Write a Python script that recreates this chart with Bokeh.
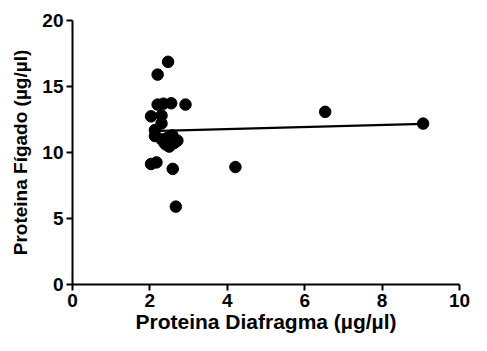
from bokeh.plotting import figure
from bokeh.models import Range1d, FixedTicker
from bokeh.embed import file_html
from bokeh.resources import INLINE

# Data
diafragma = [2.47, 2.20, 2.20, 2.35, 2.55, 2.92, 2.03, 2.30, 2.30, 2.13, 2.13,
             2.38, 2.63, 2.71, 2.50, 2.45, 2.58, 2.03, 2.17, 2.59, 2.67,
             4.21, 6.53, 9.06, 2.30, 2.42]
figado = [16.87, 15.90, 13.63, 13.70, 13.73, 13.63, 12.74, 12.80, 12.20, 11.70, 11.25,
          10.70, 10.72, 10.90, 10.45, 11.10, 11.30, 9.13, 9.25, 8.76, 5.90,
          8.90, 13.08, 12.19, 11.00, 10.60]
fit_x = [2.03, 9.06]
fit_y = [11.62, 12.17]
x_ticks = [0, 2, 4, 6, 8, 10]
y_ticks = [0, 5, 10, 15, 20]

FONT = "Liberation Sans"

p = figure(width=471, height=335, output_backend="svg", toolbar_location=None,
           x_range=Range1d(0, 10), y_range=Range1d(0, 20),
           min_border_left=72, min_border_right=12, min_border_top=20, min_border_bottom=50)
p.outline_line_color = None
p.xgrid.visible = False
p.ygrid.visible = False
p.background_fill_color = "white"

p.line(fit_x, fit_y, line_color="black", line_width=2.2)
p.scatter(diafragma, figado, size=11.5, fill_color="black", line_color="black")

for ax in (p.xaxis[0], p.yaxis[0]):
    ax.axis_line_width = 2
    ax.axis_line_color = "black"
    ax.major_tick_line_width = 2
    ax.major_tick_line_color = "black"
    ax.major_tick_out = 6
    ax.major_tick_in = 0
    ax.minor_tick_line_color = None
    ax.major_label_text_font = FONT
    ax.major_label_text_font_style = "bold"
    ax.major_label_text_font_size = "19px"
    ax.major_label_text_color = "black"
    ax.axis_label_text_font = FONT
    ax.axis_label_text_font_style = "bold"
    ax.axis_label_text_color = "black"

p.xaxis.axis_label_text_font_size = "21px"
p.yaxis.axis_label_text_font_size = "19px"
p.xaxis.ticker = FixedTicker(ticks=x_ticks)
p.yaxis.ticker = FixedTicker(ticks=y_ticks)
p.xaxis.axis_label = "Proteina Diafragma (µg/µl)"
p.yaxis.axis_label = "Proteina Fígado (µg/µl)"
p.xaxis.major_label_standoff = 3
p.yaxis.major_label_standoff = 3
p.xaxis.axis_label_standoff = 0
p.yaxis.axis_label_standoff = 8

open("out.html", "w").write(file_html(p, INLINE))
